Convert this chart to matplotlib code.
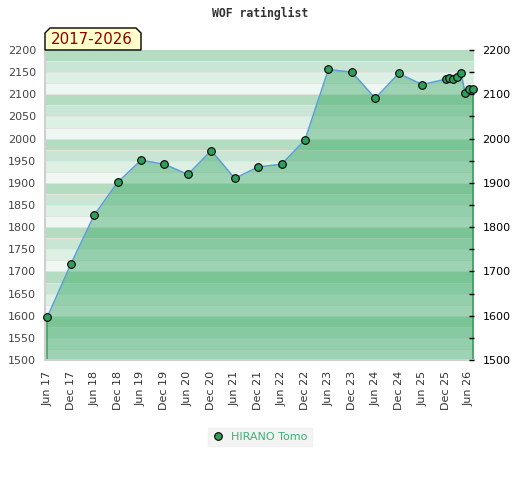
import matplotlib
matplotlib.use("Agg")
import matplotlib.pyplot as plt
from matplotlib.patches import Polygon
from matplotlib.lines import Line2D

dates = ["2017-06", "2017-12", "2018-06", "2018-12", "2019-06", "2019-12",
         "2020-06", "2020-12", "2021-06", "2021-12", "2022-06", "2022-12",
         "2023-06", "2023-12", "2024-06", "2024-12", "2025-06", "2025-12",
         "2026-01", "2026-02", "2026-03", "2026-04", "2026-05", "2026-06", "2026-07"]
ratings = [1597, 1716, 1827, 1901, 1951, 1942, 1919, 1973, 1910, 1936, 1942, 1997,
           2156, 2150, 2091, 2147, 2122, 2134, 2136, 2134, 2138, 2147, 2104, 2113, 2111]
tick_labels = ["Jun 17", "Dec 17", "Jun 18", "Dec 18", "Jun 19", "Dec 19", "Jun 20",
               "Dec 20", "Jun 21", "Dec 21", "Jun 22", "Dec 22", "Jun 23", "Dec 23",
               "Jun 24", "Dec 24", "Jun 25", "Dec 25", "Jun 26"]
player = "HIRANO Tomo"
title = "WOF ratinglist"
period = "2017-2026"


def month_index(s):
    y, m = s.split("-")
    return (int(y) - 2017) * 12 + int(m) - 6


x = [month_index(d) for d in dates]
tick_pos = [i * 6 for i in range(len(tick_labels))]

fig = plt.figure(figsize=(5.2, 4.8), dpi=100)
ax = fig.add_axes([45 / 520, 1 - 360 / 480, (474 - 45) / 520, (360 - 50) / 480])
ymin, ymax = 1500, 2200
ax.set_xlim(-0.6, 109.3)
ax.set_ylim(ymin, ymax)

stripe_cols = ["#eef7f1", "#ddf0e4", "#c8e6d3", "#b3dcc0"]
for base in range(ymin, ymax, 100):
    for k in range(4):
        ax.axhspan(base + 25 * k, base + 25 * (k + 1), color=stripe_cols[k], lw=0, zorder=0)
for v in range(ymin + 25, ymax, 25):
    ax.axhline(v, color="#e3e3e3", lw=0.7, zorder=0.5)

ax.fill_between(x, ratings, ymin, color="#2ea35d", alpha=0.42, lw=0, zorder=1)
ax.vlines([x[0], x[-1]], ymin, [ratings[0], ratings[-1]], color="#3b9e5e", lw=1.2, zorder=2)
ax.plot(x, ratings, color="#5b9fd9", lw=1.1, zorder=3)
ax.plot(x, ratings, ls="none", marker="o", ms=5.5, mfc="#2e9e5a", mec="black", mew=0.8,
        zorder=4, clip_on=False)

ax.set_xticks(tick_pos)
ax.set_xticklabels(tick_labels, rotation=90, fontsize=8, color="#333333")
ax.set_yticks(range(ymin, ymax + 1, 50))
ax.tick_params(axis="y", length=0, pad=6.5, labelsize=8, labelcolor="#444444")
ax.tick_params(axis="x", length=0, pad=8)
for s in ["top", "right"]:
    ax.spines[s].set_visible(False)
for s in ["left", "bottom"]:
    ax.spines[s].set_color("#d0d0d0")
    ax.spines[s].set_linewidth(1.5)

ax2 = ax.twinx()
ax2.set_ylim(ymin, ymax)
ax2.set_yticks(range(ymin, ymax + 1, 50))
ax2.set_yticklabels([str(v) if v % 100 == 0 else "" for v in range(ymin, ymax + 1, 50)])
ax2.tick_params(axis="y", direction="in", length=3.5, width=1, pad=6, labelsize=8,
                labelcolor="black", color="black")
for s in ax2.spines.values():
    s.set_visible(False)

fig.text(0.5, 1 - 13 / 480, title, ha="center", va="center", fontsize=8.3,
         fontweight="bold", family="DejaVu Sans Mono", color="#333333")

W, H = 520, 480
pts = [(45, 50), (45, 33), (50, 28), (136, 28), (141, 33), (141, 50)]
poly = Polygon([(px / W, 1 - py / H) for px, py in pts], closed=True,
               transform=fig.transFigure, facecolor="#ffffcc", edgecolor="black", lw=1)
fig.patches.append(poly)
fig.text(92 / W, 1 - 40 / H, period, ha="center", va="center", fontsize=10.8,
         color="#8b0000")

handle = Line2D([], [], ls="none", marker="o", ms=5.5, mfc="#2e9e5a", mec="black", mew=0.8)
leg = fig.legend([handle], [player], loc="center", bbox_to_anchor=(260 / W, 1 - 437 / H),
                 frameon=True, fancybox=False, fontsize=8, handlelength=1.0,
                 handletextpad=0.6, borderpad=0.4)
leg.get_frame().set_facecolor("#f0f0f0")
leg.get_frame().set_edgecolor("#f0f0f0")
for t in leg.get_texts():
    t.set_color("#3cb371")

fig.savefig("out.png", dpi=100)
